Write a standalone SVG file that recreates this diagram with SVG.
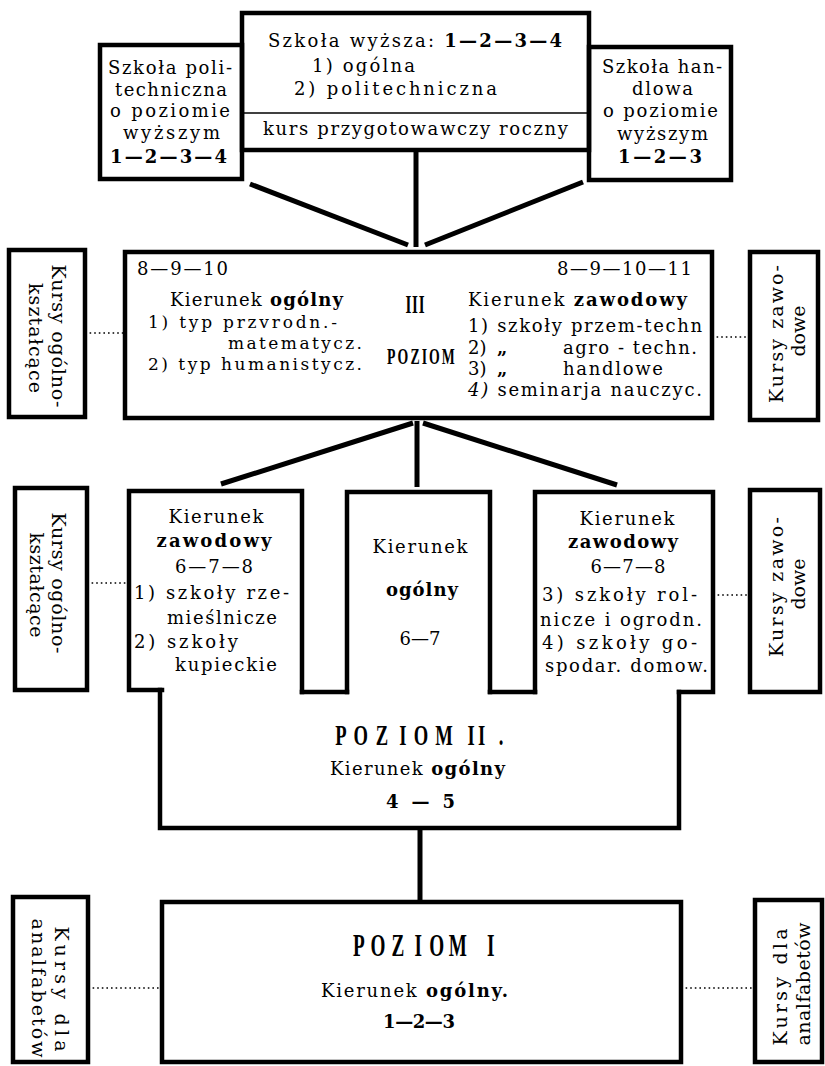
<svg xmlns="http://www.w3.org/2000/svg" width="825" height="1066" viewBox="0 0 825 1066">
<style>
.bx{fill:none;stroke:#000;stroke-width:4.5;stroke-linecap:square}
.cn{fill:none;stroke:#000;stroke-width:5}
.dt{fill:none;stroke:#000;stroke-width:1.6;stroke-dasharray:1.6 3}
.thin{fill:none;stroke:#000;stroke-width:1.6}
text{font-family:"DejaVu Serif","Liberation Serif",serif;font-size:18px;fill:#000}
.b{font-weight:bold}
.s{font-size:19px}
text.sm{font-size:17px}
text.cd{font-family:"Liberation Serif","DejaVu Serif",serif;font-weight:bold}
text.c25{font-size:25px}
text.c23{font-size:23px}
text.c30{font-size:30px}
text.c32{font-size:32px}
</style>
<rect width="825" height="1066" fill="#fff"/>

<g id="connectors">
<line class="cn" x1="250" y1="184" x2="408" y2="245"/>
<line class="cn" x1="583" y1="182" x2="425" y2="245"/>
<line class="cn" x1="416" y1="152" x2="416" y2="247"/>
<line class="cn" x1="413" y1="423" x2="221" y2="484"/>
<line class="cn" x1="423" y1="423" x2="617" y2="485"/>
<line class="cn" x1="417" y1="421" x2="417" y2="487"/>
<line class="cn" x1="420" y1="830" x2="420" y2="900"/>
<line class="dt" x1="85" y1="333" x2="123" y2="333"/>
<line class="dt" x1="712" y1="337" x2="750" y2="337"/>
<line class="dt" x1="87" y1="583" x2="127" y2="583"/>
<line class="dt" x1="713" y1="595" x2="750" y2="595"/>
<line class="dt" x1="88" y1="988" x2="160" y2="988"/>
<line class="dt" x1="681" y1="988" x2="755" y2="988"/>
</g>

<g id="szkola-politechniczna">
<rect class="bx" x="100" y="45" width="142" height="134"/>
<text x="108" y="74" textLength="124">Szkoła poli-</text>
<text x="115" y="96" textLength="112">techniczna</text>
<text x="110" y="117" textLength="120">o poziomie</text>
<text x="123" y="139" textLength="97">wyższym</text>
<text class="b" x="110" y="163" textLength="117">1—2—3—4</text>
</g>

<g id="szkola-wyzsza">
<rect class="bx" x="242" y="13" width="347" height="137"/>
<text x="268" y="47" textLength="294">Szkoła wyższa: <tspan class="b">1—2—3—4</tspan></text>
<text x="312" y="72" textLength="103">1) ogólna</text>
<text x="294" y="95" textLength="203">2) politechniczna</text>
<line class="thin" x1="242" y1="113" x2="589" y2="113"/>
<text x="263" y="135" textLength="305">kurs przygotowawczy roczny</text>
</g>

<g id="szkola-handlowa">
<rect class="bx" x="589" y="47" width="142" height="133"/>
<text x="602" y="73" textLength="120">Szkoła han-</text>
<text x="632" y="95" textLength="61">dlowa</text>
<text x="603" y="117" textLength="115">o poziomie</text>
<text x="617" y="140" textLength="91">wyższym</text>
<text class="b" x="618" y="163" textLength="84">1—2—3</text>
</g>

<g id="kursy-ogolno-3">
<rect class="bx" x="9" y="250" width="76" height="167"/>
<text class="s" transform="translate(52,336) rotate(90)" text-anchor="middle" textLength="143">Kursy ogólno-</text>
<text class="s" transform="translate(29,338) rotate(90)" text-anchor="middle" textLength="110">kształcące</text>
</g>

<g id="poziom-3">
<rect class="bx" x="125" y="252" width="587" height="166"/>
<text x="137" y="275" textLength="91">8—9—10</text>
<text x="170" y="306" textLength="173">Kierunek <tspan class="b">ogólny</tspan></text>
<text class="sm" x="148" y="328" textLength="189">1) typ przvrodn.-</text>
<text class="sm" x="228" y="349" textLength="134">matematycz.</text>
<text class="sm" x="148" y="370" textLength="214">2) typ humanistycz.</text>
<text class="cd c25" transform="translate(415,313) scale(0.6,1)" text-anchor="middle" textLength="32">III</text>
<text class="cd c23" transform="translate(421,364) scale(0.6,1)" text-anchor="middle" textLength="113">POZIOM</text>
<text x="557" y="275" textLength="135">8—9—10—11</text>
<text x="468" y="306" textLength="219">Kierunek <tspan class="b">zawodowy</tspan></text>
<text x="468" y="332" textLength="234">1) szkoły przem-techn</text>
<text x="468" y="354">2)</text>
<text class="b" x="497" y="354">„</text>
<text x="563" y="354" textLength="134">agro - techn.</text>
<text x="468" y="375">3)</text>
<text class="b" x="497" y="375">„</text>
<text x="563" y="375" textLength="100">handlowe</text>
<text x="468" y="396" textLength="234"><tspan font-style="italic">4)</tspan> seminarja nauczyc.</text>
</g>

<g id="kursy-zawodowe-3">
<rect class="bx" x="750" y="252" width="68" height="168"/>
<text class="s" transform="translate(783,334) rotate(-90)" text-anchor="middle" textLength="138">Kursy zawo-</text>
<text class="s" transform="translate(805,331) rotate(-90)" text-anchor="middle">dowe</text>
</g>

<g id="kursy-ogolno-2">
<rect class="bx" x="15" y="488" width="72" height="202"/>
<text class="s" transform="translate(52,583) rotate(90)" text-anchor="middle" textLength="141">Kursy ogólno-</text>
<text class="s" transform="translate(30,585) rotate(90)" text-anchor="middle" textLength="105">kształcące</text>
</g>

<g id="kierunek-zawodowy-1">
<path class="bx" d="M162 690 H129 V491 H302 V692"/>
<text x="216" y="523" text-anchor="middle" textLength="95">Kierunek</text>
<text class="b" x="214" y="547" text-anchor="middle" textLength="115">zawodowy</text>
<text x="214" y="573" text-anchor="middle" textLength="78">6—7—8</text>
<text x="134" y="599" textLength="155">1) szkoły rze-</text>
<text x="167" y="624" textLength="110">mieślnicze</text>
<text x="134" y="648" textLength="104">2) szkoły</text>
<text x="175" y="671" textLength="102">kupieckie</text>
</g>

<g id="kierunek-ogolny-2">
<path class="bx" d="M347 692 V492 H490 V692"/>
<text x="420" y="553" text-anchor="middle" textLength="95">Kierunek</text>
<text class="b" x="422" y="596" text-anchor="middle" textLength="72">ogólny</text>
<text x="420" y="645" text-anchor="middle" textLength="41">6—7</text>
</g>

<g id="kierunek-zawodowy-2">
<path class="bx" d="M535 692 V492 H713 V692 H679"/>
<text x="627" y="525" text-anchor="middle" textLength="95">Kierunek</text>
<text class="b" x="623" y="548" text-anchor="middle" textLength="110">zawodowy</text>
<text x="628" y="573" text-anchor="middle" textLength="75">6—7—8</text>
<text x="542" y="601" textLength="155">3) szkoły rol-</text>
<text x="540" y="626" textLength="162">nicze i ogrodn.</text>
<text x="542" y="649" textLength="155">4) szkoły go-</text>
<text x="545" y="672" textLength="163">spodar. domow.</text>
</g>

<g id="kursy-zawodowe-2">
<rect class="bx" x="750" y="490" width="70" height="202"/>
<text class="s" transform="translate(783,587) rotate(-90)" text-anchor="middle" textLength="140">Kursy zawo-</text>
<text class="s" transform="translate(805,584) rotate(-90)" text-anchor="middle">dowe</text>
</g>

<g id="poziom-2">
<path class="bx" d="M160 690 V828 H679 V692"/>
<path class="bx" d="M302 692 H347 M490 692 H535"/>
<text class="cd c30" transform="translate(0,745) scale(0.62,1)" text-anchor="middle" x="550 582 616 650 679 716 760 777 808">POZIOMII.</text>
<text x="330" y="775" textLength="175">Kierunek <tspan class="b">ogólny</tspan></text>
<text class="b" x="386" y="808" textLength="69">4 — 5</text>
</g>

<g id="kursy-analfabetow-1">
<rect class="bx" x="13" y="897" width="75" height="165"/>
<text class="s" transform="translate(55,989) rotate(90)" text-anchor="middle" textLength="125">Kursy dla</text>
<text class="s" transform="translate(32,988) rotate(90)" text-anchor="middle" textLength="139">analfabetów</text>
</g>

<g id="poziom-1">
<rect class="bx" x="162" y="902" width="519" height="160"/>
<text class="cd c32" transform="translate(0,956) scale(0.6,1)" text-anchor="middle" x="598 630 663 697 728 763 818">POZIOMI</text>
<text x="321" y="997" textLength="187">Kierunek <tspan class="b">ogólny.</tspan></text>
<text class="b" x="383" y="1028" textLength="72">1—2—3</text>
</g>

<g id="kursy-analfabetow-2">
<rect class="bx" x="755" y="900" width="67" height="162"/>
<text class="s" transform="translate(787,987) rotate(-90)" text-anchor="middle" textLength="117">Kursy dla</text>
<text class="s" transform="translate(810,984) rotate(-90)" text-anchor="middle" textLength="123">analfabetów</text>
</g>
</svg>
